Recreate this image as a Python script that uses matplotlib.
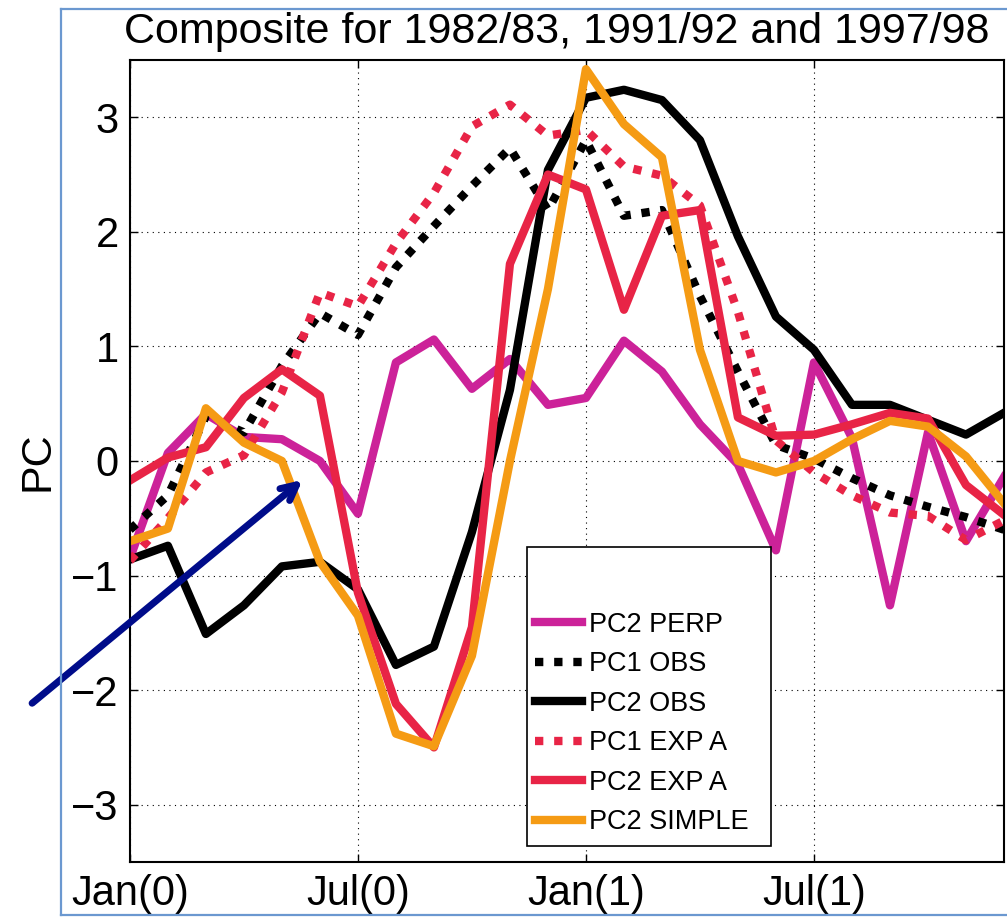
import matplotlib
matplotlib.use("Agg")
import matplotlib.pyplot as plt
from matplotlib.lines import Line2D
from matplotlib.patches import Rectangle

plt.rcParams['font.family'] = ['Liberation Sans', 'DejaVu Sans']

# months from Jan(0) to Dec(1)
months = list(range(24))
tick_pos = [0, 6, 12, 18]
tick_labels = ['Jan(0)', 'Jul(0)', 'Jan(1)', 'Jul(1)']

pc2_perp = [-0.85, 0.07, 0.41, 0.21, 0.19, 0.0, -0.46, 0.86, 1.06, 0.63, 0.89, 0.49,
            0.55, 1.05, 0.78, 0.32, -0.03, -0.78, 0.86, 0.2, -1.26, 0.25, -0.7, -0.14]
pc1_obs = [-0.6, -0.3, 0.39, 0.25, 0.83, 1.29, 1.1, 1.69, 2.05, 2.4, 2.73, 2.19,
           2.8, 2.14, 2.19, 1.44, 0.78, 0.14, 0.02, -0.15, -0.3, -0.4, -0.49, -0.6]
pc2_obs = [-0.86, -0.74, -1.51, -1.26, -0.92, -0.88, -1.12, -1.78, -1.62, -0.62, 0.62, 2.54,
           3.17, 3.24, 3.15, 2.8, 1.96, 1.26, 0.97, 0.49, 0.49, 0.36, 0.23, 0.42]
pc1_expa = [-0.87, -0.5, -0.1, 0.05, 0.6, 1.47, 1.35, 1.9, 2.34, 2.92, 3.11, 2.84,
            2.89, 2.57, 2.49, 2.23, 1.3, 0.18, -0.1, -0.3, -0.45, -0.48, -0.69, -0.52]
pc2_expa = [-0.17, 0.03, 0.12, 0.55, 0.8, 0.57, -1.15, -2.12, -2.5, -1.45, 1.72, 2.5,
            2.37, 1.32, 2.14, 2.19, 0.38, 0.22, 0.23, 0.32, 0.42, 0.37, -0.21, -0.47]
pc2_simple = [-0.7, -0.59, 0.46, 0.16, 0.0, -0.88, -1.35, -2.38, -2.49, -1.7, 0.0, 1.5,
              3.42, 2.94, 2.65, 0.97, 0.0, -0.1, 0.0, 0.19, 0.35, 0.3, 0.04, -0.37]

MAGENTA = '#cc2299'
RED = '#e82446'
ORANGE = '#f59b14'
dots = (0, (1, 1.3))

fig = plt.figure(figsize=(10.07, 9.17), dpi=100)
ax = fig.add_axes([0.129, 0.060, 0.868, 0.8746])

lw = 6
ax.plot(months, pc2_perp, color=MAGENTA, lw=lw, label='PC2 PERP')
ax.plot(months, pc1_obs, color='black', lw=lw, ls=dots, dash_capstyle='butt', label='PC1 OBS')
ax.plot(months, pc2_obs, color='black', lw=lw, label='PC2 OBS')
ax.plot(months, pc1_expa, color=RED, lw=lw, ls=dots, dash_capstyle='butt', label='PC1 EXP A')
ax.plot(months, pc2_expa, color=RED, lw=lw, label='PC2 EXP A')
ax.plot(months, pc2_simple, color=ORANGE, lw=lw, label='PC2 SIMPLE')

ax.set_xlim(0, 23)
ax.set_ylim(-3.5, 3.5)
ax.set_xticks(tick_pos)
ax.set_xticklabels(tick_labels)
ax.set_yticks([-3, -2, -1, 0, 1, 2, 3])
ax.set_yticklabels(['\u22123', '\u22122', '\u22121', '0', '1', '2', '3'])
ax.tick_params(direction='in', length=6, width=1, top=True, right=True, labelsize=30)
ax.tick_params(axis='y', pad=8)
ax.tick_params(axis='x', pad=9)
ax.grid(True, color='black', ls=(0, (1, 4)), lw=0.8)
for s in ax.spines.values():
    s.set_linewidth(1.5)

ax.set_ylabel('PC', fontsize=31, labelpad=10)
ax.set_title('Composite for 1982/83, 1991/92 and 1997/98', fontsize=31, pad=12, x=0.4886)

# legend box (drawn separately so it can keep the empty band on top)
ax.add_patch(Rectangle((0.454, 0.02), 0.2795, 0.3728, transform=ax.transAxes,
                       facecolor='white', edgecolor='black', lw=1.2, zorder=5))
leg = ax.legend(loc='upper left', bbox_to_anchor=(0.4634, 0.312), fontsize=19.5,
                handlelength=1.75, handletextpad=0.25, labelspacing=0.5,
                borderpad=0, borderaxespad=0, frameon=False)
leg.set_zorder(6)

# arrow pointing into the plot
ax.annotate('', xy=(4.6, -0.15), xytext=(-2.63, -2.13),
            arrowprops=dict(arrowstyle='->,head_length=1.1,head_width=0.55',
                            color='#000c8a', lw=5),
            annotation_clip=False)

# light blue page frame
fc = '#6b98d0'
fig.add_artist(Line2D([61 / 1007, 61 / 1007], [1 - 915 / 917, 1 - 9 / 917], color=fc, lw=1.6))
fig.add_artist(Line2D([61 / 1007, 1], [1 - 9 / 917, 1 - 9 / 917], color=fc, lw=1.6))
fig.add_artist(Line2D([61 / 1007, 1], [1 - 915 / 917, 1 - 915 / 917], color=fc, lw=1.6))

fig.savefig('out.png', dpi=100)
